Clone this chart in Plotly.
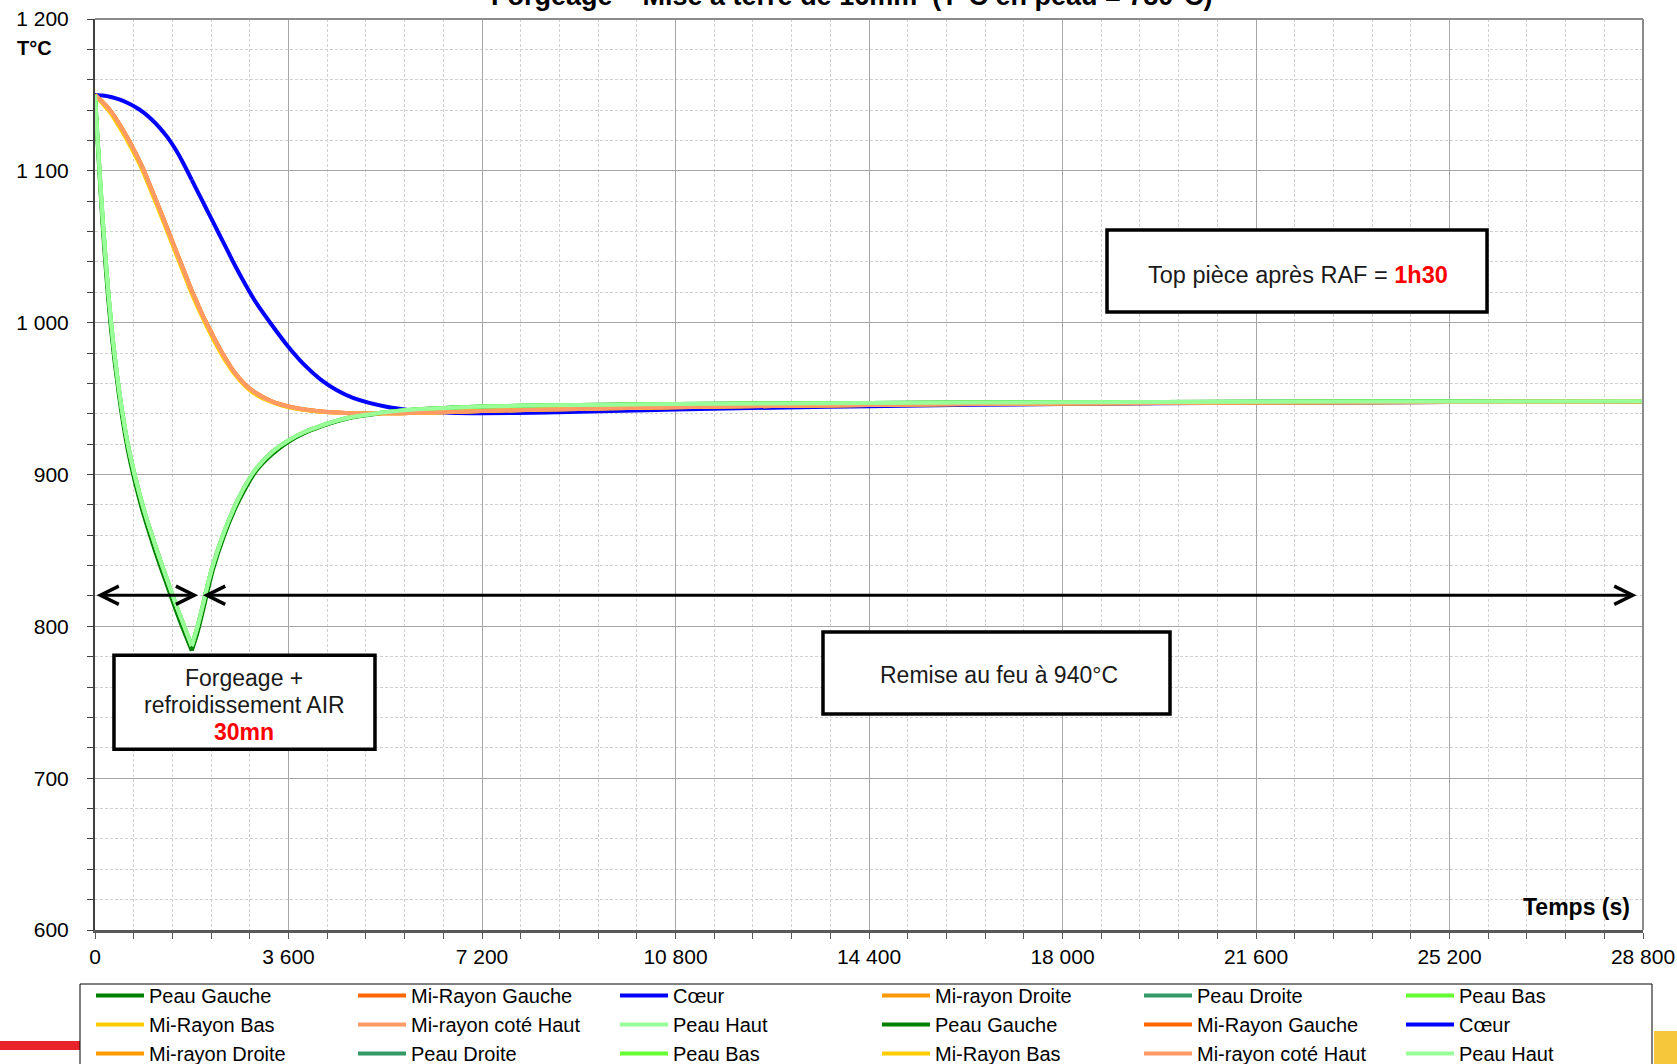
import plotly.graph_objects as go

# ---------------------------------------------------------------------------
# Data
# ---------------------------------------------------------------------------
# Time grids (s): forging + air cooling, then reheating (RAF)
t_forge = [0, 150, 300, 450, 600, 750, 900, 1050, 1200, 1350, 1500, 1650, 1800]
t_raf = [1800, 1900, 2000, 2100, 2200, 2400, 2600, 2800, 3000, 3300, 3600, 3900,
         4200, 4500, 4800, 5400, 6000, 6600, 7200, 8400, 9600, 10800, 12600,
         14400, 18000, 21600, 25200, 28800]

# Temperatures (°C) during forging + air cooling
peau_forge = [1150, 1065, 1000, 955, 922, 898, 878, 861, 845, 830, 815, 801, 787]
peau_gauche_forge = [1150, 1060, 995, 951, 918, 894, 874, 857, 841, 826, 811, 797, 784]
mi_rayon_forge = [1150, 1145, 1139, 1131, 1122, 1112, 1101, 1088, 1075, 1061.5, 1048, 1034.5, 1021]
mi_rayon_bas_forge = [1150, 1144, 1137.5, 1129, 1120, 1110, 1099, 1086, 1073, 1059.5, 1046, 1032.5, 1019]
coeur_forge = [1150, 1149.6, 1148.6, 1147, 1144.8, 1142, 1138.5, 1134, 1128.5, 1122, 1114, 1104.5, 1094]

# Temperatures (°C) during reheating at 940 °C
peau_raf = [787, 799, 813, 828, 841, 862, 879, 893, 904, 915, 922.5, 928,
            932, 935.5, 938, 941, 943, 944, 944.8, 945.6, 946, 946.4, 946.8,
            947.1, 947.6, 947.9, 948.1, 948.2]
peau_gauche_raf = [784, 795, 809, 824, 838, 859.5, 877, 891, 902.5, 913.5, 921.5, 927.3,
                   931.5, 935, 937.6, 940.7, 942.8, 943.9, 944.7, 945.5, 946, 946.4, 946.8,
                   947.1, 947.6, 947.9, 948.1, 948.2]
mi_rayon_raf = [1021, 1013, 1005, 998, 991, 978, 967, 959, 953.5, 948, 944.8, 942.8,
                941.5, 940.8, 940.4, 940.3, 940.6, 941.2, 941.8, 942.8, 943.6, 944.3, 945.1,
                945.8, 946.8, 947.4, 947.8, 948]
mi_rayon_bas_raf = [1019, 1011, 1003.5, 996, 989, 976.5, 966, 958, 952.5, 947.5, 944.3, 942.5,
                    941.3, 940.6, 940.3, 940.3, 940.6, 941.2, 941.8, 942.8, 943.6, 944.3, 945.1,
                    945.8, 946.8, 947.4, 947.8, 948]
coeur_raf = [1094, 1087, 1080, 1073, 1066, 1052, 1038, 1025, 1013, 998, 984, 972,
             962.5, 955.5, 950.5, 944.8, 941.9, 940.7, 940.4, 940.8, 941.8, 942.8, 944,
             945, 946.5, 947.2, 947.7, 948]

series_names = ["Peau Gauche", "Mi-Rayon Gauche", "Cœur", "Mi-rayon Droite",
                "Peau Droite", "Peau Bas", "Mi-Rayon Bas", "Mi-rayon coté Haut",
                "Peau Haut"]
series_colors = ["#008000", "#FF6600", "#0000FF", "#FF9900", "#339966",
                 "#66FF33", "#FFCC00", "#FF9966", "#99FF99"]

forge_values = [peau_gauche_forge, mi_rayon_forge, coeur_forge, mi_rayon_forge,
                peau_forge, peau_forge, mi_rayon_bas_forge, mi_rayon_forge, peau_forge]
raf_values = [peau_gauche_raf, mi_rayon_raf, coeur_raf, mi_rayon_raf,
              peau_raf, peau_raf, mi_rayon_bas_raf, mi_rayon_raf, peau_raf]

x_tickvals = [0, 3600, 7200, 10800, 14400, 18000, 21600, 25200, 28800]
x_ticktext = ["0", "3 600", "7 200", "10 800", "14 400", "18 000", "21 600", "25 200", "28 800"]
y_tickvals = [600, 700, 800, 900, 1000, 1100, 1200]
y_ticktext = ["600", "700", "800", "900", "1 000", "1 100", "1 200"]

# ---------------------------------------------------------------------------
# Figure
# ---------------------------------------------------------------------------
FONT = "Liberation Sans, Arial, sans-serif"
W, H = 1677, 1064
M_L, M_R, M_T, M_B = 95, 34, 19, 134
PLOT_W = W - M_L - M_R
PLOT_H = H - M_T - M_B


def px_x(px):
    """Horizontal page pixel -> paper coordinate."""
    return (px - M_L) / PLOT_W


def px_y(py):
    """Vertical page pixel -> paper coordinate."""
    return 1 - (py - M_T) / PLOT_H


fig = go.Figure()

for times, values_set in ((t_forge, forge_values), (t_raf, raf_values)):
    for name, color, values in zip(series_names, series_colors, values_set):
        fig.add_trace(go.Scatter(
            x=times, y=values, name=name, mode="lines",
            line=dict(color=color, width=4, shape="spline", smoothing=0.8),
            hoverinfo="x+y+name",
        ))

fig.update_xaxes(
    range=[0, 28800], tickvals=x_tickvals, ticktext=x_ticktext,
    showgrid=True, gridcolor="#a6a6a6", gridwidth=1, zeroline=False,
    showline=True, linecolor="#595959", linewidth=3,
    ticks="outside", ticklen=6, tickcolor="#595959", tickwidth=1,
    tickfont=dict(family=FONT, size=21, color="#000000"),
    minor=dict(dtick=720, tick0=0, showgrid=True, gridcolor="#d0d0d0",
               griddash="3px,2px", gridwidth=1, ticks="outside", ticklen=6,
               tickcolor="#595959"),
    layer="below traces",
)
fig.update_yaxes(
    range=[600, 1200], tickvals=y_tickvals, ticktext=y_ticktext,
    showgrid=True, gridcolor="#a6a6a6", gridwidth=1, zeroline=False,
    showline=True, linecolor="#404040", linewidth=2,
    ticks="outside", ticklen=6, tickcolor="#404040", tickwidth=1,
    ticklabelstandoff=14,
    tickfont=dict(family=FONT, size=21, color="#000000"),
    minor=dict(dtick=20, tick0=600, showgrid=True, gridcolor="#d0d0d0",
               griddash="3px,2px", gridwidth=1, ticks="outside", ticklen=6,
               tickcolor="#404040"),
    layer="below traces",
)

shapes = [
    # top and right frame of the plot area
    dict(type="line", xref="paper", yref="paper", x0=0, x1=1, y0=1, y1=1,
         line=dict(color="#8c8c8c", width=2)),
    dict(type="line", xref="paper", yref="paper", x0=1, x1=1, y0=0, y1=1,
         line=dict(color="#8c8c8c", width=2)),
    # text boxes
    dict(type="rect", xref="x", yref="y", x0=353, x1=5209, y0=719, y1=781,
         line=dict(color="#000000", width=3.5), fillcolor="#ffffff", layer="above"),
    dict(type="rect", xref="x", yref="y", x0=13544, x1=20000, y0=742.3, y1=796.3,
         line=dict(color="#000000", width=3.5), fillcolor="#ffffff", layer="above"),
    dict(type="rect", xref="x", yref="y", x0=18828, x1=25898, y0=1007, y1=1061,
         line=dict(color="#000000", width=3.5), fillcolor="#ffffff", layer="above"),
    # slide decorations at the bottom corners
    dict(type="rect", xref="paper", yref="paper", x0=px_x(0), x1=px_x(80),
         y0=px_y(1050), y1=px_y(1041), line=dict(width=0), fillcolor="#E8232B"),
    dict(type="rect", xref="paper", yref="paper", x0=px_x(1654), x1=px_x(1677),
         y0=px_y(1064), y1=px_y(1031), line=dict(width=0), fillcolor="#F6C73A"),
    # legend frame
    dict(type="rect", xref="paper", yref="paper", x0=px_x(80), x1=px_x(1652),
         y0=px_y(1080), y1=px_y(984), line=dict(color="#000000", width=1),
         fillcolor="#ffffff"),
]

box_font = dict(family=FONT, size=23, color="#1a1a1a")
annotations = [
    dict(text="<b>Forgeage – Mise à terre de 16mm  (T°C en peau = 780°C)</b>",
         xref="paper", yref="paper", x=px_x(852), y=px_y(-4), xanchor="center",
         yanchor="middle", showarrow=False,
         font=dict(family=FONT, size=27, color="#000000")),
    dict(text="<b>T°C</b>", xref="paper", yref="paper", x=px_x(34), y=px_y(48),
         xanchor="center", yanchor="middle", showarrow=False,
         font=dict(family=FONT, size=20, color="#000000")),
    dict(text="<b>Temps (s)</b>", xref="paper", yref="paper", x=px_x(1576), y=px_y(907),
         xanchor="center", yanchor="middle", showarrow=False,
         font=dict(family=FONT, size=23, color="#000000")),
    # box texts
    dict(text="Forgeage +", x=2781, y=766, xref="x", yref="y", showarrow=False,
         font=box_font),
    dict(text="refroidissement AIR", x=2781, y=748.2, xref="x", yref="y",
         showarrow=False, font=box_font),
    dict(text="<b>30mn</b>", x=2781, y=730.7, xref="x", yref="y", showarrow=False,
         font=dict(family=FONT, size=23, color="#FF0000")),
    dict(text="Remise au feu à 940°C", x=16819, y=768, xref="x", yref="y",
         showarrow=False, font=box_font),
    dict(text="Top pièce après RAF = <b><span style='color:#FF0000'>1h30</span></b>",
         x=22382, y=1031.4, xref="x", yref="y", showarrow=False,
         font=dict(family=FONT, size=23.5, color="#1a1a1a")),
    # phase arrows
    dict(text="", x=1920, y=820.5, ax=0, ay=820.5, xref="x", yref="y",
         axref="x", ayref="y", showarrow=True, arrowside="end+start",
         arrowhead=5, startarrowhead=5, arrowsize=1.2, startarrowsize=1.2,
         arrowwidth=3, arrowcolor="#000000"),
    dict(text="", x=28680, y=820.5, ax=1980, ay=820.5, xref="x", yref="y",
         axref="x", ayref="y", showarrow=True, arrowside="end+start",
         arrowhead=5, startarrowhead=5, arrowsize=1.2, startarrowsize=1.2,
         arrowwidth=3, arrowcolor="#000000"),
]

fig.update_layout(
    width=W, height=H, autosize=False,
    margin=dict(l=M_L, r=M_R, t=M_T, b=M_B, pad=0, autoexpand=False),
    paper_bgcolor="#ffffff", plot_bgcolor="#ffffff",
    font=dict(family=FONT, color="#000000"),
    showlegend=True,
    legend=dict(
        orientation="h", xref="paper", yref="paper",
        x=px_x(91), y=px_y(976), xanchor="left", yanchor="top",
        bgcolor="rgba(0,0,0,0)", borderwidth=0,
        font=dict(family=FONT, size=20, color="#000000"),
        entrywidth=199, entrywidthmode="pixels", itemwidth=48,
        traceorder="normal",
    ),
    shapes=shapes,
    annotations=annotations,
)

fig.write_html("out.html")
